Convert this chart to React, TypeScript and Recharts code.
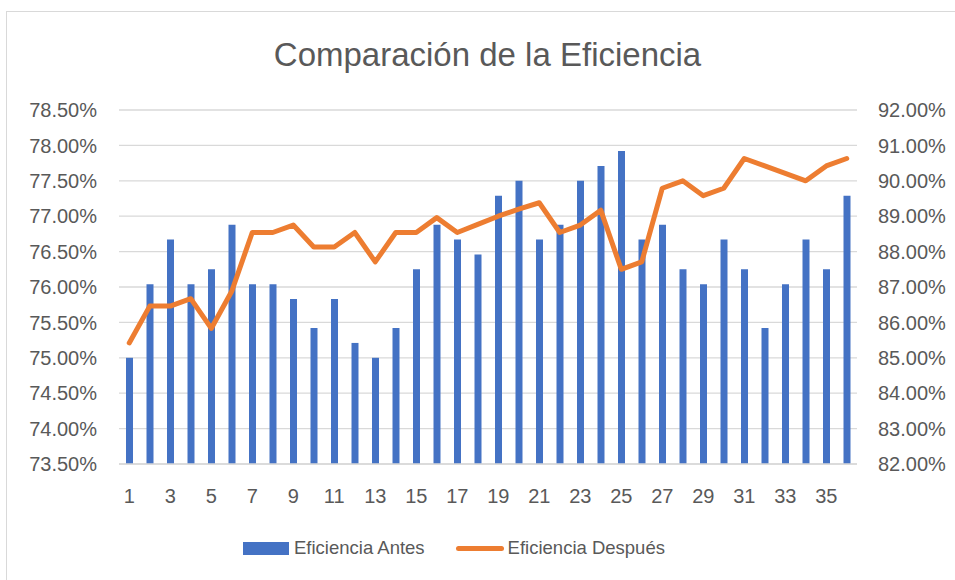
import React from "react";
import { ComposedChart, Bar, Line, XAxis, YAxis, CartesianGrid } from "recharts";

const CATEGORIES = Array.from({ length: 36 }, (_, i) => String(i + 1));

const ANTES = [
  75.0, 76.04, 76.67, 76.04, 76.25, 76.88, 76.04, 76.04, 75.83, 75.42, 75.83, 75.21,
  75.0, 75.42, 76.25, 76.88, 76.67, 76.46, 77.29, 77.5, 76.67, 76.88, 77.5, 77.71,
  77.92, 76.67, 76.88, 76.25, 76.04, 76.67, 76.25, 75.42, 76.04, 76.67, 76.25, 77.29,
];

const DESPUES = [
  85.42, 86.46, 86.46, 86.67, 85.83, 86.88, 88.54, 88.54, 88.75, 88.13, 88.13, 88.54,
  87.71, 88.54, 88.54, 88.96, 88.54, 88.77, 89.0, 89.2, 89.38, 88.54, 88.75, 89.17,
  87.5, 87.71, 89.79, 90.0, 89.58, 89.79, 90.63, 90.42, 90.21, 90.0, 90.42, 90.63,
];

const LEFT_TICKS = [73.5, 74, 74.5, 75, 75.5, 76, 76.5, 77, 77.5, 78, 78.5];
const RIGHT_TICKS = [82, 83, 84, 85, 86, 87, 88, 89, 90, 91, 92];

const SERIES = [
  { key: "antes", name: "Eficiencia Antes", color: "#4472C4", type: "bar" },
  { key: "despues", name: "Eficiencia Después", color: "#ED7D31", type: "line" },
];

const data = CATEGORIES.map((c, i) => ({ cat: c, antes: ANTES[i], despues: DESPUES[i] }));

const FONT = "'Liberation Sans', Arial, sans-serif";
const TEXT = "#595959";
const pct = (v: number) => v.toFixed(2) + "%";

export default function App() {
  return (
    <div style={{ position: "absolute", left: 0, top: 0, width: 955, height: 580, background: "#fff", fontFamily: FONT, overflow: "hidden" }}>
      <div style={{ position: "absolute", left: 6, top: 11, width: 960, height: 580, border: "1px solid #d9d9d9", boxSizing: "border-box" }} />
      <div style={{ position: "absolute", left: 0, top: 36, width: 975, textAlign: "center", fontSize: 33, color: TEXT }}>
        Comparación de la Eficiencia
      </div>
      <div style={{ position: "absolute", left: 0, top: 0 }}>
        <ComposedChart width={955} height={580} data={data} margin={{ top: 110, right: 0, left: 0, bottom: 0 }}>
          <CartesianGrid yAxisId="left" vertical={false} stroke="#d9d9d9" strokeWidth={1.3} />
          <XAxis
            dataKey="cat"
            interval={1}
            height={116}
            tickLine={false}
            tickSize={0}
            tickMargin={25}
            axisLine={{ stroke: "#d9d9d9", strokeWidth: 1.3 }}
            tick={{ fill: TEXT, fontSize: 20, fontFamily: FONT }}
          />
          <YAxis
            yAxisId="left"
            width={119}
            domain={[73.5, 78.5]}
            ticks={LEFT_TICKS}
            tickFormatter={pct}
            axisLine={false}
            tickLine={false}
            tickSize={0}
            tickMargin={22}
            tick={{ fill: TEXT, fontSize: 20, fontFamily: FONT }}
          />
          <YAxis
            yAxisId="right"
            orientation="right"
            width={98}
            domain={[82, 92]}
            ticks={RIGHT_TICKS}
            tickFormatter={pct}
            axisLine={false}
            tickLine={false}
            tickSize={0}
            tickMargin={21}
            tick={{ fill: TEXT, fontSize: 20, fontFamily: FONT, textAnchor: "start" }}
          />
          <Bar yAxisId="left" dataKey="antes" name={SERIES[0].name} fill={SERIES[0].color} barSize={7} isAnimationActive={false} />
          <Line
            yAxisId="right"
            dataKey="despues"
            name={SERIES[1].name}
            stroke={SERIES[1].color}
            strokeWidth={5}
            strokeLinejoin="round"
            strokeLinecap="round"
            dot={false}
            activeDot={false}
            type="linear"
            isAnimationActive={false}
          />
        </ComposedChart>
      </div>
      <div style={{ position: "absolute", left: 243, top: 537, display: "flex", alignItems: "center", fontSize: 18.5, color: TEXT }}>
        {SERIES.map((s) => (
          <div key={s.key} style={{ display: "flex", alignItems: "center", marginRight: 31 }}>
            {s.type === "bar" ? (
              <div style={{ width: 46, height: 13, background: s.color, marginRight: 5 }} />
            ) : (
              <div style={{ width: 48, height: 5, borderRadius: 3, background: s.color, marginRight: 4 }} />
            )}
            <span>{s.name}</span>
          </div>
        ))}
      </div>
    </div>
  );
}
